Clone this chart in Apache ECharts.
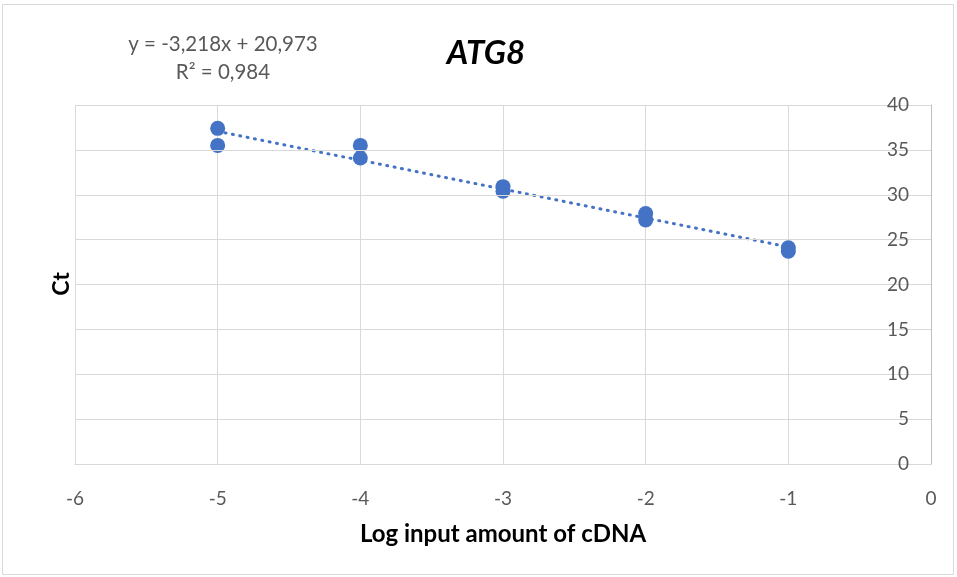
<!DOCTYPE html>
<html><head><meta charset="utf-8">
<script src="https://cdn.jsdelivr.net/npm/echarts@6/dist/echarts.min.js"></script>
<style>html,body{margin:0;padding:0;background:#fff}#c{width:957px;height:577px}</style>
</head><body><div id="c"></div>
<script>
// Data
const logInput = [-5, -5, -4, -4, -3, -3, -2, -2, -1, -1];
const ctValues = [37.4, 35.5, 35.5, 34.1, 30.9, 30.4, 27.9, 27.2, 24.1, 23.7];
const xTicks = [-6, -5, -4, -3, -2, -1, 0];
const yTicks = [0, 5, 10, 15, 20, 25, 30, 35, 40];
const trendSlope = -3.218;
const trendIntercept = 20.973;
const trendRange = [-5, -1];
const equationText = 'y = -3,218x + 20,973';
const r2Text = 'R² = 0,984';
const titleText = 'ATG8';
const xName = 'Log input amount of cDNA';
const yName = 'Ct';

const FONT = 'Lato, "Open Sans", sans-serif';
const blue = '#4472C4';
const points = logInput.map((x, i) => [x, ctValues[i]]);
const trend = trendRange.map(x => [x, trendSlope * x + trendIntercept]);

const chart = echarts.init(document.getElementById('c'));
chart.setOption({
  animation: false,
  backgroundColor: '#fff',
  textStyle: { fontFamily: FONT },
  grid: { left: 75, right: 26, top: 105, bottom: 113 },
  xAxis: {
    type: 'value', min: xTicks[0], max: xTicks[xTicks.length - 1], interval: 1,
    axisLine: { show: true, onZero: false, lineStyle: { color: '#BFBFBF', width: 1 } },
    axisTick: { show: false },
    axisLabel: { color: '#595959', fontSize: 19, fontFamily: FONT, margin: 25 },
    splitLine: { show: true, lineStyle: { color: '#D9D9D9', width: 1 } }
  },
  yAxis: {
    type: 'value', position: 'right', min: yTicks[0], max: yTicks[yTicks.length - 1], interval: 5,
    axisLine: { show: true, lineStyle: { color: '#BFBFBF', width: 1 } },
    axisTick: { show: false },
    axisLabel: { inside: true, color: '#595959', fontSize: 19, fontFamily: FONT, margin: 22 },
    splitLine: { show: true, lineStyle: { color: '#D9D9D9', width: 1 } },
    z: 5
  },
  series: [
    {
      type: 'line', data: trend, showSymbol: false, symbol: 'none',
      lineStyle: { color: blue, width: 3, type: [1, 6.5], cap: 'round' },
      z: 2, silent: true
    },
    {
      type: 'scatter', data: points, symbol: 'circle', symbolSize: 15,
      itemStyle: { color: blue, opacity: 1 }, z: 3
    }
  ],
  graphic: [
    { type: 'rect', shape: { x: 2.5, y: 4.5, width: 951, height: 570 }, style: { fill: 'none', stroke: '#D9D9D9', lineWidth: 1 }, z: -1 },
    { type: 'text', style: { text: titleText, x: 486, y: 53, align: 'center', verticalAlign: 'middle', font: 'italic bold 33px ' + FONT, fill: '#000' } },
    { type: 'text', style: { text: equationText, x: 223, y: 44, align: 'center', verticalAlign: 'middle', font: '20.5px ' + FONT, fill: '#595959' } },
    { type: 'text', style: { text: r2Text, x: 223, y: 72, align: 'center', verticalAlign: 'middle', font: '20.5px ' + FONT, fill: '#595959' } },
    { type: 'text', style: { text: xName, x: 503, y: 534, align: 'center', verticalAlign: 'middle', font: 'bold 24px ' + FONT, fill: '#000' } },
    { type: 'text', x: 62, y: 284, rotation: Math.PI / 2, style: { text: yName, x: 0, y: 0, align: 'center', verticalAlign: 'middle', font: 'bold 23px ' + FONT, fill: '#000' } }
  ]
});
</script></body></html>
